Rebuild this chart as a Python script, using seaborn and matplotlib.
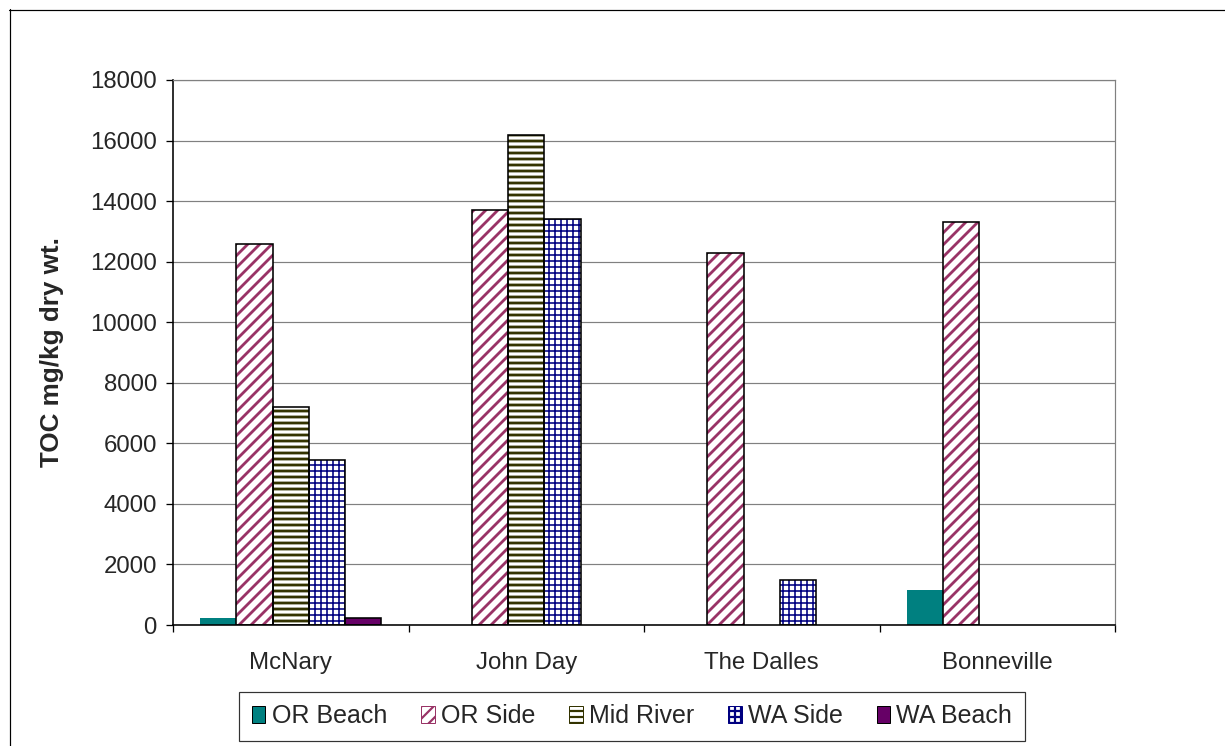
import numpy as np
import pandas as pd
import matplotlib.pyplot as plt
import seaborn as sns
from matplotlib.patches import Rectangle
from matplotlib.lines import Line2D

# data (TOC, mg/kg dry wt.)
sites = ["McNary", "John Day", "The Dalles", "Bonneville"]
locations = ["OR Beach", "OR Side", "Mid River", "WA Side", "WA Beach"]
or_beach = [230, np.nan, np.nan, 1150]
or_side = [12600, 13700, 12300, 13300]
mid_river = [7200, 16200, np.nan, np.nan]
wa_side = [5450, 13400, 1500, np.nan]
wa_beach = [230, np.nan, np.nan, np.nan]
y_ticks = [0, 2000, 4000, 6000, 8000, 10000, 12000, 14000, 16000, 18000]

wide = pd.DataFrame({"Site": sites, "OR Beach": or_beach, "OR Side": or_side,
                     "Mid River": mid_river, "WA Side": wa_side, "WA Beach": wa_beach})
df = wide.melt(id_vars="Site", var_name="Location", value_name="TOC").dropna()

# colour / hatch per location (Excel style fills)
colors = {"OR Beach": "#008080", "OR Side": "#993366", "Mid River": "#333300",
          "WA Side": "#000080", "WA Beach": "#660066"}
hatches = {"OR Beach": None, "OR Side": "//", "Mid River": "--",
           "WA Side": "++", "WA Beach": None}

sns.set_style("white")
plt.rcParams["font.family"] = ["Liberation Sans", "DejaVu Sans"]
plt.rcParams["hatch.linewidth"] = 2.2

DPI = 72
fig = plt.figure(figsize=(1225 / DPI, 746 / DPI), dpi=DPI)
ax = fig.add_axes([173 / 1225, 1 - 625 / 746, 942 / 1225, 545 / 746])

sns.barplot(data=df, x="Site", y="TOC", hue="Location", order=sites,
            hue_order=locations, palette=colors, width=5 / 6.5, dodge=True,
            saturation=1, errorbar=None, legend=False, ax=ax)

handles = []
for loc, cont in zip(locations, ax.containers):
    for bar in cont.patches:
        if hatches[loc]:
            bar.set_facecolor("white")
            bar.set_edgecolor(colors[loc])
            bar.set_hatch(hatches[loc])
            bar.set_linewidth(0)
            if hasattr(bar, "set_hatch_linewidth"):
                bar.set_hatch_linewidth(2.8 if loc != "WA Side" else 1.6)
            ax.add_patch(Rectangle(bar.get_xy(), bar.get_width(), bar.get_height(),
                                   fill=False, edgecolor="black", linewidth=1.6, zorder=3))
        else:
            bar.set_facecolor(colors[loc])
            if loc == "WA Beach":
                bar.set_edgecolor("black")
                bar.set_linewidth(1.6)
            else:
                bar.set_linewidth(0)
    h = Rectangle((0, 0), 1, 1, facecolor="white" if hatches[loc] else colors[loc],
                  edgecolor=colors[loc] if hatches[loc] else "black",
                  hatch=hatches[loc], linewidth=1.0, label=loc)
    handles.append(h)

ax.set_ylim(0, 18000)
ax.set_xlim(-0.5, len(sites) - 0.5)
ax.set_yticks(y_ticks)
ax.set_yticklabels([str(t) for t in y_ticks])
ax.yaxis.grid(True, color="#808080", linewidth=1.2)
ax.set_axisbelow(True)

ax.set_xlabel("")
ax.set_ylabel("TOC mg/kg dry wt.", fontsize=26, fontweight="bold")
ax.yaxis.set_label_coords(-0.116, 0.5)

ax.tick_params(axis="y", labelsize=24, length=7, width=1.3, direction="out",
               left=True, pad=9, color="black")
ax.tick_params(axis="x", which="major", labelsize=24, length=0, pad=27)
ax.set_xticks(np.arange(-0.5, len(sites)), minor=True)
ax.tick_params(axis="x", which="minor", length=7, width=1.3, direction="out",
               bottom=True, color="black")

for side in ["top", "right"]:
    ax.spines[side].set_color("#808080")
    ax.spines[side].set_linewidth(1.2)
for side in ["left", "bottom"]:
    ax.spines[side].set_color("black")
    ax.spines[side].set_linewidth(1.6)

leg = fig.legend(handles=handles, loc="center", ncol=5,
                 bbox_to_anchor=(632 / 1225, 1 - 716 / 746), fontsize=25,
                 frameon=True, fancybox=False, edgecolor="black",
                 handlelength=0.55, handleheight=0.65, handletextpad=0.25,
                 columnspacing=1.35, borderpad=0.5)
leg.get_frame().set_linewidth(1.2)

# outer chart-area border (top and left edges visible in the reference)
fig.add_artist(Line2D([9 / 1225, 1], [1 - 9.5 / 746, 1 - 9.5 / 746],
                      transform=fig.transFigure, color="black", linewidth=1.2))
fig.add_artist(Line2D([9.5 / 1225, 9.5 / 1225], [0, 1 - 9 / 746],
                      transform=fig.transFigure, color="black", linewidth=1.2))

fig.savefig("out.png", dpi=DPI)
